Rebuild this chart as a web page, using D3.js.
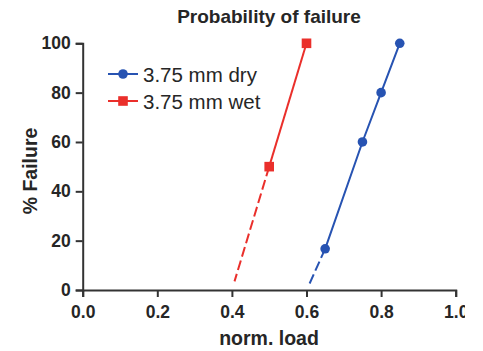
<!DOCTYPE html>
<html>
<head>
<meta charset="utf-8">
<script src="https://cdn.jsdelivr.net/npm/d3@7"></script>
<style>
  body { margin: 0; background: #fff; }
  text { font-family: "Liberation Sans", Arial, sans-serif; fill: #262626; }
</style>
</head>
<body>
<svg id="chart" width="483" height="351"></svg>
<script>
// measured points
var dryLoad = [0.65, 0.75, 0.80, 0.85];
var dryFail = [16.7, 60, 80, 100];
var wetLoad = [0.50, 0.60];
var wetFail = [50, 100];
// dashed extrapolation down to the x axis
var dryExtLoad = [0.65, 0.605];
var dryExtFail = [16.7, 1.5];
var wetExtLoad = [0.50, 0.407];
var wetExtFail = [50, 3.5];

var xTicks = [0, 0.2, 0.4, 0.6, 0.8, 1.0];
var yTicks = [0, 20, 40, 60, 80, 100];
var seriesNames = ["3.75 mm dry", "3.75 mm wet"];
var seriesCols = ["#2753b2", "#ea2f2b"];

var svg = d3.select("#chart");
var x = d3.scaleLinear().domain([0, 1]).range([82.7, 455.7]);
var y = d3.scaleLinear().domain([0, 100]).range([290, 43.3]);

function pts(a, b) { return a.map(function(d, i) { return [d, b[i]]; }); }
var line = d3.line().x(function(d) { return x(d[0]); }).y(function(d) { return y(d[1]); });

// axes
var xAxis = svg.append("g").attr("transform", "translate(0,290)")
  .call(d3.axisBottom(x).tickValues(xTicks).tickSize(7).tickPadding(9).tickFormat(d3.format(".1f")));
var yAxis = svg.append("g").attr("transform", "translate(82.7,0)")
  .call(d3.axisLeft(y).tickValues(yTicks).tickSize(7).tickPadding(5));
[xAxis, yAxis].forEach(function(a) {
  a.select(".domain").attr("stroke", "#333").attr("stroke-width", 2);
  a.selectAll(".tick line").attr("stroke", "#333").attr("stroke-width", 2);
  a.selectAll(".tick text").attr("fill", "#2a2a2a")
    .style("font-size", "17.5px").style("font-weight", "bold")
    .style("font-family", "'Liberation Sans', Arial, sans-serif");
});

// lines
svg.append("path").datum(pts(dryExtLoad, dryExtFail)).attr("d", line)
  .attr("fill", "none").attr("stroke", seriesCols[0]).attr("stroke-width", 2)
  .attr("stroke-dasharray", "10,4");
svg.append("path").datum(pts(wetExtLoad, wetExtFail)).attr("d", line)
  .attr("fill", "none").attr("stroke", seriesCols[1]).attr("stroke-width", 2)
  .attr("stroke-dasharray", "10,4");
svg.append("path").datum(pts(dryLoad, dryFail)).attr("d", line)
  .attr("fill", "none").attr("stroke", seriesCols[0]).attr("stroke-width", 2);
svg.append("path").datum(pts(wetLoad, wetFail)).attr("d", line)
  .attr("fill", "none").attr("stroke", seriesCols[1]).attr("stroke-width", 2);

// markers
svg.selectAll("circle.dry").data(pts(dryLoad, dryFail)).enter().append("circle")
  .attr("class", "dry")
  .attr("cx", function(d) { return x(d[0]); })
  .attr("cy", function(d) { return y(d[1]); })
  .attr("r", 4.8).attr("fill", seriesCols[0]);
svg.selectAll("rect.wet").data(pts(wetLoad, wetFail)).enter().append("rect")
  .attr("class", "wet")
  .attr("x", function(d) { return x(d[0]) - 4.8; })
  .attr("y", function(d) { return y(d[1]) - 4.8; })
  .attr("width", 9.6).attr("height", 9.6).attr("fill", seriesCols[1]);

// legend
var leg = svg.append("g");
seriesNames.forEach(function(name, i) {
  var ly = 74 + i * 27;
  leg.append("line").attr("x1", 108).attr("x2", 138).attr("y1", ly).attr("y2", ly)
    .attr("stroke", seriesCols[i]).attr("stroke-width", 2);
  if (i == 0) {
    leg.append("circle").attr("cx", 123).attr("cy", ly).attr("r", 4.8).attr("fill", seriesCols[i]);
  } else {
    leg.append("rect").attr("x", 118.2).attr("y", ly - 4.8).attr("width", 9.6).attr("height", 9.6)
      .attr("fill", seriesCols[i]);
  }
  leg.append("text").attr("x", 143).attr("y", ly + 7.5).text(name)
    .style("font-size", "20.5px");
});

// titles
svg.append("text").attr("x", 269).attr("y", 23).attr("text-anchor", "middle")
  .style("font-size", "19px").style("font-weight", "bold").text("Probability of failure");
svg.append("text").attr("x", 269).attr("y", 345).attr("text-anchor", "middle")
  .style("font-size", "19.5px").style("font-weight", "bold").text("norm. load");
svg.append("text").attr("transform", "translate(37,171) rotate(-90)")
  .attr("text-anchor", "middle")
  .style("font-size", "19.5px").style("font-weight", "bold").text("% Failure");

// the source figure is cropped on the right, cutting into the last tick label
svg.append("rect").attr("x", 465).attr("y", 0).attr("width", 18).attr("height", 351).attr("fill", "#fff");
</script>
</body>
</html>
